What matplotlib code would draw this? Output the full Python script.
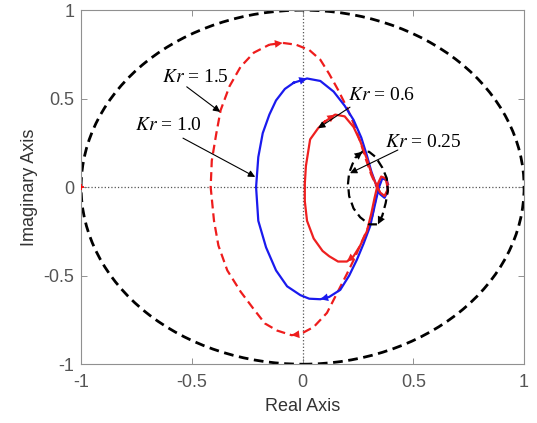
import matplotlib
matplotlib.use("Agg")
import matplotlib.pyplot as plt
from matplotlib.patches import Circle
import numpy as np

plt.rcParams['font.family'] = ['Liberation Sans', 'DejaVu Sans']
plt.rcParams['mathtext.fontset'] = 'stix'

# loci traced clockwise, (real, imag)
kr15_re = [-0.15, -0.09, -0.03, 0.03, 0.08, 0.12, 0.16, 0.20, 0.23, 0.26, 0.285, 0.31, 0.335,
           0.36, 0.38, 0.39, 0.38, 0.36, 0.34, 0.325, 0.31, 0.27, 0.235, 0.20, 0.155, 0.11,
           0.05, -0.01, -0.05, -0.115, -0.17, -0.22, -0.28, -0.34, -0.38, -0.40, -0.415,
           -0.41, -0.39, -0.37, -0.33, -0.28, -0.22, -0.15]
kr15_im = [0.805, 0.815, 0.805, 0.775, 0.72, 0.64, 0.55, 0.45, 0.36, 0.26, 0.16, 0.07, 0.0,
           -0.05, -0.04, 0.0, 0.04, 0.05, 0.0, -0.10, -0.19, -0.30, -0.40, -0.49, -0.60, -0.71,
           -0.79, -0.83, -0.836, -0.81, -0.77, -0.69, -0.59, -0.47, -0.33, -0.19, 0.0,
           0.15, 0.30, 0.435, 0.57, 0.68, 0.76, 0.805]

kr10_re = [-0.04, 0.02, 0.08, 0.14, 0.19, 0.23, 0.265, 0.29, 0.31, 0.33, 0.35, 0.37, 0.385,
           0.38, 0.36, 0.345, 0.33, 0.305, 0.275, 0.245, 0.21, 0.17, 0.12, 0.08, 0.03, -0.01,
           -0.07, -0.12, -0.165, -0.20, -0.21, -0.20, -0.18, -0.15, -0.12, -0.08, -0.04]
kr10_im = [0.59, 0.614, 0.60, 0.54, 0.46, 0.38, 0.28, 0.18, 0.09, 0.02, -0.04, -0.06, -0.02,
           0.04, 0.05, 0.0, -0.08, -0.22, -0.32, -0.41, -0.50, -0.58, -0.62, -0.633, -0.63, -0.61,
           -0.56, -0.47, -0.34, -0.19, 0.0, 0.17, 0.305, 0.41, 0.49, 0.555, 0.59]

kr06_re = [0.10, 0.147, 0.19, 0.23, 0.26, 0.29, 0.31, 0.33, 0.35, 0.37, 0.385, 0.375, 0.355,
           0.34, 0.325, 0.31, 0.29, 0.26, 0.23, 0.20, 0.16, 0.12, 0.09, 0.05, 0.02, 0.01, 0.01,
           0.015, 0.034, 0.07, 0.10]
kr06_im = [0.37, 0.41, 0.40, 0.34, 0.26, 0.16, 0.08, 0.02, -0.03, -0.05, -0.01, 0.05, 0.06,
           0.02, -0.06, -0.15, -0.25, -0.33, -0.39, -0.42, -0.42, -0.39, -0.36, -0.29, -0.19,
           -0.08, 0.02, 0.12, 0.27, 0.333, 0.37]

kr025_re = [0.24, 0.27, 0.30, 0.33, 0.36, 0.38, 0.385, 0.375, 0.36, 0.34, 0.30, 0.26, 0.23,
            0.21, 0.205, 0.21, 0.225, 0.24]
kr025_im = [0.17, 0.20, 0.20, 0.17, 0.11, 0.05, -0.02, -0.09, -0.16, -0.21, -0.21, -0.17,
            -0.12, -0.05, 0.02, 0.08, 0.13, 0.17]

unit_radius = 1.0
critical_point = (-1.0, 0.0)

fig = plt.figure(figsize=(5.37, 4.23), dpi=100)
ax = fig.add_axes([0.151, 0.139, 0.825, 0.837])

ax.axhline(0, color='#555555', ls=':', lw=0.9, zorder=1)
ax.axvline(0, color='#555555', ls=':', lw=0.9, zorder=1)

ax.add_patch(Circle((0, 0), unit_radius, fill=False, ec='black', lw=2.0,
                    ls=(0, (3.5, 2)), zorder=2))

curves = [
    (kr15_re, kr15_im, '#ee1c1c', (0, (4, 2.2)), [1, 28]),
    (kr10_re, kr10_im, '#1a1aee', '-', [1, 23]),
    (kr06_re, kr06_im, '#ee2020', '-', [1, 19]),
    (kr025_re, kr025_im, 'black', (0, (4, 2.2)), [1, 9]),
]
for re, im, c, ls, arrows in curves:
    ax.plot(re, im, color=c, ls=ls, lw=1.6, zorder=3)
    for i in arrows:
        ax.annotate('', xy=(re[i], im[i]), xytext=(re[i - 1], im[i - 1]),
                    arrowprops=dict(arrowstyle='-|>', color=c, lw=0, mutation_scale=14,
                                    shrinkA=0, shrinkB=0), zorder=4)

ax.plot(*critical_point, marker='+', color='red', ms=5, mew=1.2, zorder=4)

labels = [
    (r'$Kr$ = 1.5', (-0.634, 0.62), (-0.523, 0.567), (-0.372, 0.425)),
    (r'$Kr$ = 1.0', (-0.756, 0.35), (-0.54, 0.277), (-0.214, 0.058)),
    (r'$Kr$ = 0.6', (0.205, 0.52), (0.214, 0.452), (0.07, 0.333)),
    (r'$Kr$ = 0.25', (0.372, 0.25), (0.43, 0.21), (0.214, 0.079)),
]
for txt, pos, tail, head in labels:
    ax.text(pos[0], pos[1], txt, fontsize=14, family='Liberation Serif',
            ha='left', va='center', zorder=5)
    ax.annotate('', xy=head, xytext=tail,
                arrowprops=dict(arrowstyle='-|>', color='black', lw=0.8,
                                mutation_scale=10, shrinkA=0, shrinkB=0), zorder=5)

ax.set_xlim(-1, 1)
ax.set_ylim(-1, 1)
ticks = [-1, -0.5, 0, 0.5, 1]
ax.set_xticks(ticks)
ax.set_yticks(ticks)
ax.set_xticklabels(['-1', '-0.5', '0', '0.5', '1'])
ax.set_yticklabels(['-1', '-0.5', '0', '0.5', '1'])
ax.tick_params(direction='in', top=True, right=True, length=4, width=0.6,
               colors='#808080', labelcolor='#555555', labelsize=13)
ax.tick_params(axis='x', pad=7)
ax.tick_params(axis='y', pad=5)
for s in ax.spines.values():
    s.set_color('#909090')
    s.set_linewidth(0.8)

ax.set_xlabel('Real Axis', fontsize=13, color='#333333', labelpad=5)
ax.set_ylabel('Imaginary Axis', fontsize=13, color='#333333', labelpad=4)

fig.savefig('out.png', dpi=100)
